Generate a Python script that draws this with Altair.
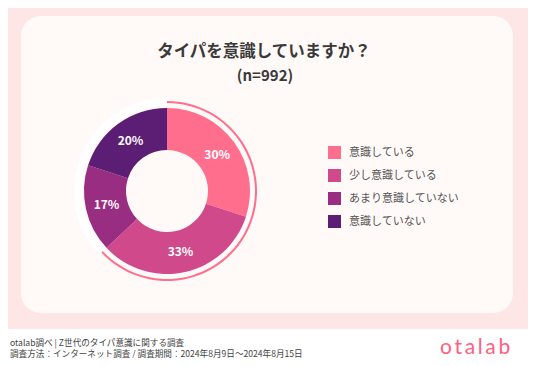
import altair as alt
import pandas as pd

# ---- data ----
categories = ["意識している", "少し意識している", "あまり意識していない", "意識していない"]
values = [30, 33, 17, 20]
colors = ["#FF6E8D", "#D0498A", "#992D82", "#5C1D74"]
title_text = "タイパを意識していますか？"
subtitle_text = "(n=992)"
footer_line1 = "otalab調べ | Z世代のタイパ意識に関する調査"
footer_line2 = "調査方法：インターネット調査 / 調査期間：2024年8月9日〜2024年8月15日"
logo_text = "otalab"

W, H = 520, 350
CX, CY = 159, 183
JP = "Noto Sans CJK JP"

df = pd.DataFrame({
    "cat": categories,
    "value": values,
    "idx": list(range(len(categories))),
    "label": [f"{v}%" for v in values],
})

aware_total = values[0] + values[1]
ring_df = pd.DataFrame({
    "part": ["aware", "rest"],
    "value": [aware_total, sum(values) - aware_total],
    "idx": [0, 1],
})

one = pd.DataFrame({"t": [""]})

# background card & footer
card = alt.Chart(one).mark_rect(color="#FFF9F8", cornerRadius=20).encode(
    x=alt.value(13), x2=alt.value(505), y=alt.value(8), y2=alt.value(305)
)
footer_bg = alt.Chart(one).mark_rect(color="#FFFFFF").encode(
    x=alt.value(-10), x2=alt.value(W + 10), y=alt.value(321), y2=alt.value(H + 10)
)

theta_scale = alt.Scale(domain=[0, sum(values)])

ring_base = alt.Chart(ring_df).transform_stack(
    stack="value", groupby=[], as_=["v0", "v1"], sort=[alt.SortField("idx")]
)
ring_pink = ring_base.transform_filter("datum.part == 'aware'").mark_arc(
    radius=90, radius2=88, color="#FF6E8D"
).encode(
    theta=alt.Theta("v0:Q", scale=theta_scale), theta2="v1:Q",
    x=alt.value(CX), y=alt.value(CY)
)
ring_white = ring_base.transform_filter("datum.part == 'rest'").mark_arc(
    radius=93, radius2=85, color="#FFFFFF"
).encode(
    theta=alt.Theta("v0:Q", scale=theta_scale), theta2="v1:Q",
    x=alt.value(CX), y=alt.value(CY)
)

base = alt.Chart(df).encode(
    theta=alt.Theta("value:Q", stack=True, scale=theta_scale),
    order=alt.Order("idx:Q"),
    x=alt.value(CX), y=alt.value(CY),
)
donut = base.mark_arc(radius=83, radius2=41, stroke=None).encode(
    color=alt.Color(
        "cat:N",
        scale=alt.Scale(domain=categories, range=colors),
        sort=categories,
        legend=alt.Legend(
            title=None, orient="none", legendX=320, legendY=138,
            symbolType="square", symbolSize=169, symbolStrokeWidth=0,
            symbolOpacity=1, labelFont=JP, labelFontSize=11,
            labelColor="#555555", labelOffset=8, rowPadding=10, padding=0,
        ),
    )
)
labels = base.mark_text(
    radius=62, font=JP, fontSize=12, fontWeight="bold", color="#FFFFFF"
).encode(text="label:N")

def txt(s, x, y, size, weight="normal", color="#3A3A3A", align="center",
        font=JP, baseline="middle"):
    return alt.Chart(pd.DataFrame({"t": [s]})).mark_text(
        font=font, fontSize=size, fontWeight=weight, color=color,
        align=align, baseline=baseline
    ).encode(text="t:N", x=alt.value(x), y=alt.value(y))

title = txt(title_text, 256, 44, 16.5, "bold")
subtitle = txt(subtitle_text, 257, 68, 15, "bold")
f1 = txt(footer_line1, 2, 334.5, 8.6, color="#444444", align="left")
f2 = txt(footer_line2, 2, 345.5, 8.6, color="#444444", align="left")
logo = txt("\u2009".join(logo_text), 432, 345.5, 21, "normal", color="#FF5F80",
           align="left", font="Lato", baseline="alphabetic")

chart = alt.layer(
    footer_bg, card, ring_white, ring_pink, donut, labels,
    title, subtitle, f1, f2, logo
).properties(
    width=W, height=H, background="#FDE6E5", padding=0,
    autosize=alt.AutoSizeParams(type="none"),
).configure_view(stroke=None)

chart.save("out.html", embed_options={"renderer": "svg", "actions": False})
